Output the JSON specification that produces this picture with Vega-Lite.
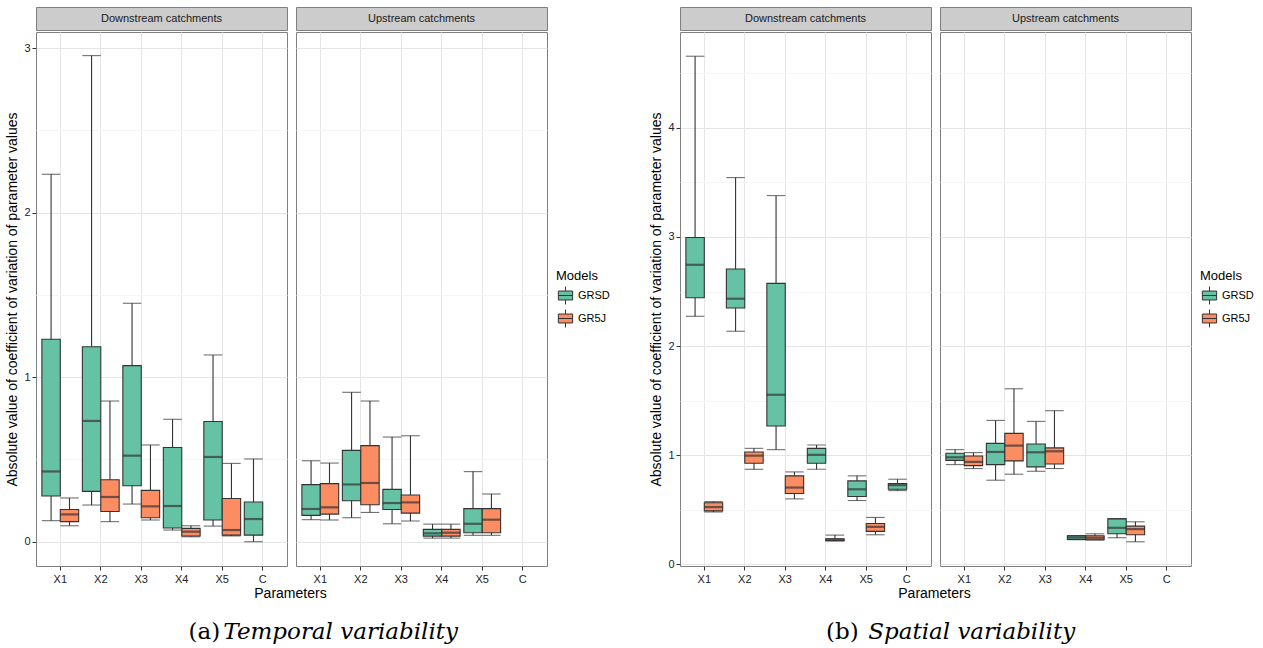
{
  "$schema": "https://vega.github.io/schema/vega-lite/v6.json",
  "padding": {"left": 5, "top": 6, "right": 2, "bottom": 0},
  "background": "white",
  "config": {
    "font": "Liberation Sans",
    "view": {"stroke": "#7f7f7f", "strokeWidth": 1},
    "axis": {"labelFont": "Liberation Sans", "titleFont": "Liberation Sans", "labelColor": "#222222", "tickColor": "#333333", "titleColor": "#000000", "labelFontSize": 11, "titleFontSize": 14, "titleFontWeight": "normal", "domain": false},
    "legend": {"titleFont": "Liberation Sans", "labelFont": "Liberation Sans", "titleFontWeight": "normal"},
    "concat": {"spacing": 0}
  },
  "datasets": {
    "stats": [
      {"fig": "a", "catchment": "Downstream", "param": "X1", "model": "GRSD", "lower": 0.128, "q1": 0.278, "median": 0.427, "q3": 1.230, "upper": 2.233},
      {"fig": "a", "catchment": "Downstream", "param": "X1", "model": "GR5J", "lower": 0.097, "q1": 0.122, "median": 0.166, "q3": 0.196, "upper": 0.266},
      {"fig": "a", "catchment": "Downstream", "param": "X2", "model": "GRSD", "lower": 0.223, "q1": 0.306, "median": 0.734, "q3": 1.185, "upper": 2.954},
      {"fig": "a", "catchment": "Downstream", "param": "X2", "model": "GR5J", "lower": 0.122, "q1": 0.184, "median": 0.272, "q3": 0.377, "upper": 0.855},
      {"fig": "a", "catchment": "Downstream", "param": "X3", "model": "GRSD", "lower": 0.229, "q1": 0.340, "median": 0.523, "q3": 1.070, "upper": 1.449},
      {"fig": "a", "catchment": "Downstream", "param": "X3", "model": "GR5J", "lower": 0.132, "q1": 0.146, "median": 0.215, "q3": 0.312, "upper": 0.588},
      {"fig": "a", "catchment": "Downstream", "param": "X4", "model": "GRSD", "lower": 0.071, "q1": 0.083, "median": 0.217, "q3": 0.573, "upper": 0.744},
      {"fig": "a", "catchment": "Downstream", "param": "X4", "model": "GR5J", "lower": 0.030, "q1": 0.035, "median": 0.061, "q3": 0.081, "upper": 0.097},
      {"fig": "a", "catchment": "Downstream", "param": "X5", "model": "GRSD", "lower": 0.095, "q1": 0.132, "median": 0.515, "q3": 0.731, "upper": 1.135},
      {"fig": "a", "catchment": "Downstream", "param": "X5", "model": "GR5J", "lower": 0.035, "q1": 0.040, "median": 0.071, "q3": 0.263, "upper": 0.476},
      {"fig": "a", "catchment": "Downstream", "param": "C", "model": "GRSD", "lower": 0.0, "q1": 0.040, "median": 0.138, "q3": 0.241, "upper": 0.503},
      {"fig": "a", "catchment": "Upstream", "param": "X1", "model": "GRSD", "lower": 0.134, "q1": 0.160, "median": 0.199, "q3": 0.347, "upper": 0.492},
      {"fig": "a", "catchment": "Upstream", "param": "X1", "model": "GR5J", "lower": 0.132, "q1": 0.168, "median": 0.209, "q3": 0.353, "upper": 0.478},
      {"fig": "a", "catchment": "Upstream", "param": "X2", "model": "GRSD", "lower": 0.146, "q1": 0.249, "median": 0.348, "q3": 0.555, "upper": 0.908},
      {"fig": "a", "catchment": "Upstream", "param": "X2", "model": "GR5J", "lower": 0.178, "q1": 0.225, "median": 0.357, "q3": 0.584, "upper": 0.855},
      {"fig": "a", "catchment": "Upstream", "param": "X3", "model": "GRSD", "lower": 0.109, "q1": 0.196, "median": 0.235, "q3": 0.318, "upper": 0.636},
      {"fig": "a", "catchment": "Upstream", "param": "X3", "model": "GR5J", "lower": 0.126, "q1": 0.174, "median": 0.239, "q3": 0.284, "upper": 0.644},
      {"fig": "a", "catchment": "Upstream", "param": "X4", "model": "GRSD", "lower": 0.022, "q1": 0.034, "median": 0.051, "q3": 0.075, "upper": 0.107},
      {"fig": "a", "catchment": "Upstream", "param": "X4", "model": "GR5J", "lower": 0.022, "q1": 0.034, "median": 0.055, "q3": 0.075, "upper": 0.107},
      {"fig": "a", "catchment": "Upstream", "param": "X5", "model": "GRSD", "lower": 0.039, "q1": 0.055, "median": 0.109, "q3": 0.201, "upper": 0.426},
      {"fig": "a", "catchment": "Upstream", "param": "X5", "model": "GR5J", "lower": 0.039, "q1": 0.055, "median": 0.134, "q3": 0.201, "upper": 0.290},
      {"fig": "b", "catchment": "Downstream", "param": "X1", "model": "GRSD", "lower": 2.273, "q1": 2.443, "median": 2.745, "q3": 2.995, "upper": 4.656},
      {"fig": "b", "catchment": "Downstream", "param": "X1", "model": "GR5J", "lower": 0.480, "q1": 0.490, "median": 0.525, "q3": 0.565, "upper": 0.575},
      {"fig": "b", "catchment": "Downstream", "param": "X2", "model": "GRSD", "lower": 2.136, "q1": 2.349, "median": 2.434, "q3": 2.706, "upper": 3.544},
      {"fig": "b", "catchment": "Downstream", "param": "X2", "model": "GR5J", "lower": 0.871, "q1": 0.926, "median": 0.996, "q3": 1.030, "upper": 1.063},
      {"fig": "b", "catchment": "Downstream", "param": "X3", "model": "GRSD", "lower": 1.051, "q1": 1.268, "median": 1.554, "q3": 2.575, "upper": 3.379},
      {"fig": "b", "catchment": "Downstream", "param": "X3", "model": "GR5J", "lower": 0.600, "q1": 0.649, "median": 0.704, "q3": 0.811, "upper": 0.847},
      {"fig": "b", "catchment": "Downstream", "param": "X4", "model": "GRSD", "lower": 0.871, "q1": 0.926, "median": 1.003, "q3": 1.063, "upper": 1.094},
      {"fig": "b", "catchment": "Downstream", "param": "X4", "model": "GR5J", "lower": 0.215, "q1": 0.217, "median": 0.226, "q3": 0.235, "upper": 0.268},
      {"fig": "b", "catchment": "Downstream", "param": "X5", "model": "GRSD", "lower": 0.585, "q1": 0.622, "median": 0.688, "q3": 0.765, "upper": 0.811},
      {"fig": "b", "catchment": "Downstream", "param": "X5", "model": "GR5J", "lower": 0.271, "q1": 0.302, "median": 0.344, "q3": 0.375, "upper": 0.430},
      {"fig": "b", "catchment": "Downstream", "param": "C", "model": "GRSD", "lower": 0.676, "q1": 0.688, "median": 0.725, "q3": 0.740, "upper": 0.780},
      {"fig": "b", "catchment": "Upstream", "param": "X1", "model": "GRSD", "lower": 0.914, "q1": 0.953, "median": 0.981, "q3": 1.018, "upper": 1.051},
      {"fig": "b", "catchment": "Upstream", "param": "X1", "model": "GR5J", "lower": 0.878, "q1": 0.905, "median": 0.939, "q3": 0.993, "upper": 1.024},
      {"fig": "b", "catchment": "Upstream", "param": "X2", "model": "GRSD", "lower": 0.771, "q1": 0.914, "median": 1.030, "q3": 1.109, "upper": 1.319},
      {"fig": "b", "catchment": "Upstream", "param": "X2", "model": "GR5J", "lower": 0.826, "q1": 0.948, "median": 1.088, "q3": 1.200, "upper": 1.609},
      {"fig": "b", "catchment": "Upstream", "param": "X3", "model": "GRSD", "lower": 0.853, "q1": 0.893, "median": 1.027, "q3": 1.103, "upper": 1.310},
      {"fig": "b", "catchment": "Upstream", "param": "X3", "model": "GR5J", "lower": 0.878, "q1": 0.920, "median": 1.036, "q3": 1.067, "upper": 1.408},
      {"fig": "b", "catchment": "Upstream", "param": "X4", "model": "GRSD", "lower": 0.226, "q1": 0.229, "median": 0.247, "q3": 0.262, "upper": 0.265},
      {"fig": "b", "catchment": "Upstream", "param": "X4", "model": "GR5J", "lower": 0.223, "q1": 0.226, "median": 0.244, "q3": 0.262, "upper": 0.280},
      {"fig": "b", "catchment": "Upstream", "param": "X5", "model": "GRSD", "lower": 0.244, "q1": 0.280, "median": 0.335, "q3": 0.417, "upper": 0.420},
      {"fig": "b", "catchment": "Upstream", "param": "X5", "model": "GR5J", "lower": 0.207, "q1": 0.271, "median": 0.323, "q3": 0.350, "upper": 0.390}
    ]
  },
  "resolve": {"scale": {"fill": "independent", "y": "independent", "x": "independent"}, "legend": {"fill": "independent"}},
  "spacing": 39,
  "hconcat": [
    {
      "title": {"text": "Temporal variability", "orient": "bottom", "font": "DejaVu Serif", "fontStyle": "italic", "fontWeight": "normal", "fontSize": 23, "color": "#000000", "offset": -23, "anchor": "middle", "frame": "bounds", "dx": 33},
      "vconcat": [
        {
          "title": {"text": "(a)", "orient": "bottom", "font": "DejaVu Serif", "fontStyle": "normal", "fontWeight": "normal", "fontSize": 23, "color": "#000000", "offset": 20, "anchor": "middle", "frame": "bounds", "dx": -72},
          "vconcat": [
            {
              "title": {"text": "Parameters", "orient": "bottom", "fontSize": 14, "fontWeight": "normal", "color": "#000000", "offset": 2, "anchor": "middle", "frame": "bounds", "dx": 14},
              "spacing": 7,
              "hconcat": [
                {
                  "spacing": 0,
                  "vconcat": [
                    {"width": 251, "height": 23, "view": {"fill": "#cccccc", "stroke": "#7f7f7f"}, "data": {"values": [{"label": "Downstream catchments"}]}, "mark": {"type": "text", "fontSize": 11, "color": "#1a1a1a"}, "encoding": {"text": {"field": "label"}}},
                    {
                      "width": 251, "height": 534,
                      "data": {"name": "stats"},
                      "transform": [{"filter": "datum.fig === 'a' && datum.catchment === 'Downstream'"}],
                      "encoding": {
                        "x": {"field": "param", "type": "nominal", "scale": {"domain": ["X1", "X2", "X3", "X4", "X5", "C"], "paddingInner": 0, "paddingOuter": 0.1}, "axis": {"title": null, "labelAngle": 0, "grid": true, "gridColor": "#e5e5e5", "bandPosition": 0.5, "tickSize": 4, "labelPadding": 3}},
                        "xOffset": {"field": "model", "type": "nominal", "scale": {"domain": ["GRSD", "GR5J"], "paddingInner": 0, "paddingOuter": 0.1}}
                      },
                      "layer": [
                        {"mark": {"type": "rule", "color": "#333333", "strokeWidth": 1.1}, "encoding": {"y": {"field": "lower", "type": "quantitative", "scale": {"domain": [-0.1475, 3.0975], "nice": false, "zero": false}, "axis": {"title": "Absolute value of coefficient of variation of parameter values", "values": [0, 0.5, 1, 1.5, 2, 2.5, 3], "labelExpr": "datum.value % 1 === 0 ? format(datum.value, 'd') : ''", "grid": true, "gridColor": {"condition": {"test": "datum.value % 1 === 0", "value": "#e5e5e5"}, "value": "#f5f5f5"}, "tickOpacity": {"condition": {"test": "datum.value % 1 === 0", "value": 1}, "value": 0}, "tickSize": 4, "labelPadding": 2, "titlePadding": 4}}, "y2": {"field": "upper"}}},
                        {"mark": {"type": "bar", "stroke": "#333333", "strokeWidth": 1.1}, "encoding": {"y": {"field": "q1", "type": "quantitative"}, "y2": {"field": "q3"}, "fill": {"field": "model", "type": "nominal", "scale": {"domain": ["GRSD", "GR5J"], "range": ["#66c2a5", "#fc8d62"]}, "legend": {"title": "Models", "orient": "none", "legendX": 520, "legendY": 263, "titleFontSize": 13, "labelFontSize": 11, "symbolType": "M-0.8,-0.5L0.8,-0.5L0.8,0.5L-0.8,0.5Z M-0.8,0L0.8,0 M0,-0.5L0,-1 M0,0.5L0,1", "symbolSize": 320, "symbolStrokeColor": "#333333", "symbolStrokeWidth": 1, "symbolOpacity": 1, "rowPadding": 0, "labelOffset": 3, "titlePadding": 3}}}},
                        {"mark": {"type": "tick", "color": "#333333", "size": 18.5, "thickness": 2.2}, "encoding": {"y": {"field": "median", "type": "quantitative"}}},
                        {"mark": {"type": "tick", "color": "#333333", "size": 18.5, "thickness": 1.1}, "encoding": {"y": {"field": "lower", "type": "quantitative"}}},
                        {"mark": {"type": "tick", "color": "#333333", "size": 18.5, "thickness": 1.1}, "encoding": {"y": {"field": "upper", "type": "quantitative"}}}
                      ]
                    }
                  ]
                },
                {
                  "spacing": 0,
                  "vconcat": [
                    {"width": 251, "height": 23, "view": {"fill": "#cccccc", "stroke": "#7f7f7f"}, "data": {"values": [{"label": "Upstream catchments"}]}, "mark": {"type": "text", "fontSize": 11, "color": "#1a1a1a"}, "encoding": {"text": {"field": "label"}}},
                    {
                      "width": 251, "height": 534,
                      "data": {"name": "stats"},
                      "transform": [{"filter": "datum.fig === 'a' && datum.catchment === 'Upstream'"}],
                      "encoding": {
                        "x": {"field": "param", "type": "nominal", "scale": {"domain": ["X1", "X2", "X3", "X4", "X5", "C"], "paddingInner": 0, "paddingOuter": 0.1}, "axis": {"title": null, "labelAngle": 0, "grid": true, "gridColor": "#e5e5e5", "bandPosition": 0.5, "tickSize": 4, "labelPadding": 3}},
                        "xOffset": {"field": "model", "type": "nominal", "scale": {"domain": ["GRSD", "GR5J"], "paddingInner": 0, "paddingOuter": 0.1}}
                      },
                      "layer": [
                        {"mark": {"type": "rule", "color": "#333333", "strokeWidth": 1.1}, "encoding": {"y": {"field": "lower", "type": "quantitative", "scale": {"domain": [-0.1475, 3.0975], "nice": false, "zero": false}, "axis": {"title": null, "values": [0, 0.5, 1, 1.5, 2, 2.5, 3], "labels": false, "ticks": false, "grid": true, "gridColor": {"condition": {"test": "datum.value % 1 === 0", "value": "#e5e5e5"}, "value": "#f5f5f5"}}}, "y2": {"field": "upper"}}},
                        {"mark": {"type": "bar", "stroke": "#333333", "strokeWidth": 1.1}, "encoding": {"y": {"field": "q1", "type": "quantitative"}, "y2": {"field": "q3"}, "fill": {"field": "model", "type": "nominal", "scale": {"domain": ["GRSD", "GR5J"], "range": ["#66c2a5", "#fc8d62"]}}}},
                        {"mark": {"type": "tick", "color": "#333333", "size": 18.5, "thickness": 2.2}, "encoding": {"y": {"field": "median", "type": "quantitative"}}},
                        {"mark": {"type": "tick", "color": "#333333", "size": 18.5, "thickness": 1.1}, "encoding": {"y": {"field": "lower", "type": "quantitative"}}},
                        {"mark": {"type": "tick", "color": "#333333", "size": 18.5, "thickness": 1.1}, "encoding": {"y": {"field": "upper", "type": "quantitative"}}}
                      ]
                    }
                  ]
                }
              ]
            }
          ]
        }
      ]
    },
    {
      "title": {"text": "Spatial variability", "orient": "bottom", "font": "DejaVu Serif", "fontStyle": "italic", "fontWeight": "normal", "fontSize": 23, "color": "#000000", "offset": -23, "anchor": "middle", "frame": "bounds", "dx": 20},
      "vconcat": [
        {
          "title": {"text": "(b)", "orient": "bottom", "font": "DejaVu Serif", "fontStyle": "normal", "fontWeight": "normal", "fontSize": 23, "color": "#000000", "offset": 20, "anchor": "middle", "frame": "bounds", "dx": -78},
          "vconcat": [
            {
              "title": {"text": "Parameters", "orient": "bottom", "fontSize": 14, "fontWeight": "normal", "color": "#000000", "offset": 2, "anchor": "middle", "frame": "bounds", "dx": 14},
              "spacing": 7,
              "hconcat": [
                {
                  "spacing": 0,
                  "vconcat": [
                    {"width": 251, "height": 23, "view": {"fill": "#cccccc", "stroke": "#7f7f7f"}, "data": {"values": [{"label": "Downstream catchments"}]}, "mark": {"type": "text", "fontSize": 11, "color": "#1a1a1a"}, "encoding": {"text": {"field": "label"}}},
                    {
                      "width": 251, "height": 534,
                      "data": {"name": "stats"},
                      "transform": [{"filter": "datum.fig === 'b' && datum.catchment === 'Downstream'"}],
                      "encoding": {
                        "x": {"field": "param", "type": "nominal", "scale": {"domain": ["X1", "X2", "X3", "X4", "X5", "C"], "paddingInner": 0, "paddingOuter": 0.1}, "axis": {"title": null, "labelAngle": 0, "grid": true, "gridColor": "#e5e5e5", "bandPosition": 0.5, "tickSize": 4, "labelPadding": 3}},
                        "xOffset": {"field": "model", "type": "nominal", "scale": {"domain": ["GRSD", "GR5J"], "paddingInner": 0, "paddingOuter": 0.1}}
                      },
                      "layer": [
                        {"mark": {"type": "rule", "color": "#333333", "strokeWidth": 1.1}, "encoding": {"y": {"field": "lower", "type": "quantitative", "scale": {"domain": [-0.015, 4.878], "nice": false, "zero": false}, "axis": {"title": "Absolute value of coefficient of variation of parameter values", "values": [0, 0.5, 1, 1.5, 2, 2.5, 3, 3.5, 4, 4.5], "labelExpr": "datum.value % 1 === 0 ? format(datum.value, 'd') : ''", "grid": true, "gridColor": {"condition": {"test": "datum.value % 1 === 0", "value": "#e5e5e5"}, "value": "#f5f5f5"}, "tickOpacity": {"condition": {"test": "datum.value % 1 === 0", "value": 1}, "value": 0}, "tickSize": 4, "labelPadding": 2, "titlePadding": 4}}, "y2": {"field": "upper"}}},
                        {"mark": {"type": "bar", "stroke": "#333333", "strokeWidth": 1.1}, "encoding": {"y": {"field": "q1", "type": "quantitative"}, "y2": {"field": "q3"}, "fill": {"field": "model", "type": "nominal", "scale": {"domain": ["GRSD", "GR5J"], "range": ["#66c2a5", "#fc8d62"]}, "legend": {"title": "Models", "orient": "none", "legendX": 520, "legendY": 263, "titleFontSize": 13, "labelFontSize": 11, "symbolType": "M-0.8,-0.5L0.8,-0.5L0.8,0.5L-0.8,0.5Z M-0.8,0L0.8,0 M0,-0.5L0,-1 M0,0.5L0,1", "symbolSize": 320, "symbolStrokeColor": "#333333", "symbolStrokeWidth": 1, "symbolOpacity": 1, "rowPadding": 0, "labelOffset": 3, "titlePadding": 3}}}},
                        {"mark": {"type": "tick", "color": "#333333", "size": 18.5, "thickness": 2.2}, "encoding": {"y": {"field": "median", "type": "quantitative"}}},
                        {"mark": {"type": "tick", "color": "#333333", "size": 18.5, "thickness": 1.1}, "encoding": {"y": {"field": "lower", "type": "quantitative"}}},
                        {"mark": {"type": "tick", "color": "#333333", "size": 18.5, "thickness": 1.1}, "encoding": {"y": {"field": "upper", "type": "quantitative"}}}
                      ]
                    }
                  ]
                },
                {
                  "spacing": 0,
                  "vconcat": [
                    {"width": 251, "height": 23, "view": {"fill": "#cccccc", "stroke": "#7f7f7f"}, "data": {"values": [{"label": "Upstream catchments"}]}, "mark": {"type": "text", "fontSize": 11, "color": "#1a1a1a"}, "encoding": {"text": {"field": "label"}}},
                    {
                      "width": 251, "height": 534,
                      "data": {"name": "stats"},
                      "transform": [{"filter": "datum.fig === 'b' && datum.catchment === 'Upstream'"}],
                      "encoding": {
                        "x": {"field": "param", "type": "nominal", "scale": {"domain": ["X1", "X2", "X3", "X4", "X5", "C"], "paddingInner": 0, "paddingOuter": 0.1}, "axis": {"title": null, "labelAngle": 0, "grid": true, "gridColor": "#e5e5e5", "bandPosition": 0.5, "tickSize": 4, "labelPadding": 3}},
                        "xOffset": {"field": "model", "type": "nominal", "scale": {"domain": ["GRSD", "GR5J"], "paddingInner": 0, "paddingOuter": 0.1}}
                      },
                      "layer": [
                        {"mark": {"type": "rule", "color": "#333333", "strokeWidth": 1.1}, "encoding": {"y": {"field": "lower", "type": "quantitative", "scale": {"domain": [-0.015, 4.878], "nice": false, "zero": false}, "axis": {"title": null, "values": [0, 0.5, 1, 1.5, 2, 2.5, 3, 3.5, 4, 4.5], "labels": false, "ticks": false, "grid": true, "gridColor": {"condition": {"test": "datum.value % 1 === 0", "value": "#e5e5e5"}, "value": "#f5f5f5"}}}, "y2": {"field": "upper"}}},
                        {"mark": {"type": "bar", "stroke": "#333333", "strokeWidth": 1.1}, "encoding": {"y": {"field": "q1", "type": "quantitative"}, "y2": {"field": "q3"}, "fill": {"field": "model", "type": "nominal", "scale": {"domain": ["GRSD", "GR5J"], "range": ["#66c2a5", "#fc8d62"]}}}},
                        {"mark": {"type": "tick", "color": "#333333", "size": 18.5, "thickness": 2.2}, "encoding": {"y": {"field": "median", "type": "quantitative"}}},
                        {"mark": {"type": "tick", "color": "#333333", "size": 18.5, "thickness": 1.1}, "encoding": {"y": {"field": "lower", "type": "quantitative"}}},
                        {"mark": {"type": "tick", "color": "#333333", "size": 18.5, "thickness": 1.1}, "encoding": {"y": {"field": "upper", "type": "quantitative"}}}
                      ]
                    }
                  ]
                }
              ]
            }
          ]
        }
      ]
    }
  ]
}
